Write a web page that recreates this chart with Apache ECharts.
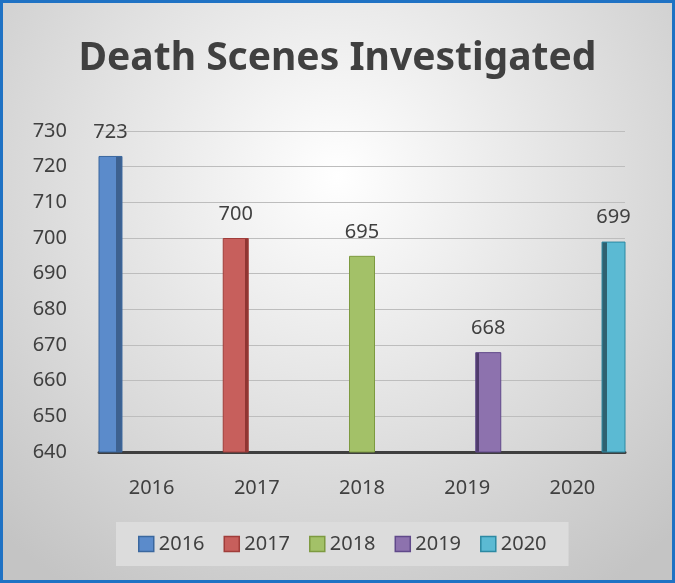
<!doctype html>
<html>
    <head>
        <meta charset="utf-8">
        <style>
            html, body { margin: 0; padding: 0; }
            #main {
                width: 675px;
                height: 583px;
                border: 3px solid #1f72c4;
                box-sizing: border-box;
            }
        </style>
    </head>
    <body>
        <div id="main"></div>
        <script src="https://cdn.jsdelivr.net/npm/echarts@6/dist/echarts.min.js"></script>
        <script>
            var years = ['2016', '2017', '2018', '2019', '2020'];
            var values = [723, 700, 695, 668, 699];
            var yTicks = { min: 640, max: 730, interval: 10 };

            // front face, side face, border
            var faceColors = ['#5b8bcb', '#c75f5c', '#a3c168', '#8d72ae', '#5bbad3'];
            var sideColors = ['#3d6190', '#8f3532', '#7b9444', '#4f3b6b', '#2f6170'];
            var edgeColors = ['#3a679e', '#a03d3a', '#7d9a40', '#60498a', '#2c89a2'];
            // where the darker side face sits, as share of the bar width
            var sideShare = [0.25, 0.16, 0.05, -0.16, -0.22];

            var font = "'Noto Sans', sans-serif";
            var textColor = '#404040';

            function barFill(i) {
                var s = sideShare[i];
                var c = faceColors[i];
                var d = sideColors[i];
                var stops;
                if (s >= 0) {
                    stops = [
                        { offset: 0, color: c },
                        { offset: 1 - s, color: c },
                        { offset: 1 - s, color: d },
                        { offset: 1, color: d }
                    ];
                } else {
                    stops = [
                        { offset: 0, color: d },
                        { offset: -s, color: d },
                        { offset: -s, color: c },
                        { offset: 1, color: c }
                    ];
                }
                return new echarts.graphic.LinearGradient(0, 0, 1, 0, stops);
            }

            var chart = echarts.init(document.getElementById('main'));

            var series = years.map(function (y, i) {
                return {
                    name: y,
                    type: 'bar',
                    barWidth: 26,
                    barGap: '-19%',
                    data: years.map(function (_, j) {
                        return j === i ? values[i] : '-';
                    }),
                    itemStyle: {
                        color: barFill(i),
                        borderColor: edgeColors[i],
                        borderWidth: 1
                    },
                    label: {
                        show: true,
                        position: 'top',
                        distance: 14,
                        color: textColor,
                        fontFamily: font,
                        fontSize: 20
                    }
                };
            });

            chart.setOption({
                backgroundColor: new echarts.graphic.RadialGradient(0.5, 0.3, 0.85, [
                    { offset: 0, color: '#ffffff' },
                    { offset: 1, color: '#c4c4c4' }
                ]),
                title: {
                    text: 'Death Scenes Investigated',
                    left: 'center',
                    top: 31,
                    textStyle: {
                        fontFamily: font,
                        fontWeight: 'bold',
                        fontSize: 39,
                        color: textColor
                    }
                },
                grid: {
                    left: 96,
                    right: 47,
                    top: 128,
                    bottom: 128
                },
                xAxis: {
                    type: 'category',
                    data: years,
                    axisTick: { show: false },
                    axisLine: {
                        lineStyle: { color: '#3f3f3f', width: 3 }
                    },
                    axisLabel: {
                        margin: 26,
                        color: textColor,
                        fontFamily: font,
                        fontSize: 20
                    }
                },
                yAxis: {
                    type: 'value',
                    min: yTicks.min,
                    max: yTicks.max,
                    interval: yTicks.interval,
                    axisLine: { show: false },
                    axisTick: { show: false },
                    splitLine: {
                        lineStyle: { color: '#bdbdbd', width: 1 }
                    },
                    axisLabel: {
                        margin: 32,
                        color: textColor,
                        fontFamily: font,
                        fontSize: 20
                    }
                },
                legend: {
                    left: 113,
                    bottom: 14,
                    backgroundColor: '#dcdcdc',
                    padding: [12, 22, 12, 22],
                    itemWidth: 15,
                    itemHeight: 15,
                    itemGap: 19,
                    icon: 'rect',
                    textStyle: {
                        color: textColor,
                        fontFamily: font,
                        fontSize: 20
                    },
                    data: years.map(function (y, i) {
                        return {
                            name: y,
                            itemStyle: {
                                color: faceColors[i],
                                borderColor: edgeColors[i],
                                borderWidth: 1.5
                            }
                        };
                    })
                },
                series: series
            });

            window.addEventListener('resize', function () {
                chart.resize();
            });
        </script>
    </body>
</html>
